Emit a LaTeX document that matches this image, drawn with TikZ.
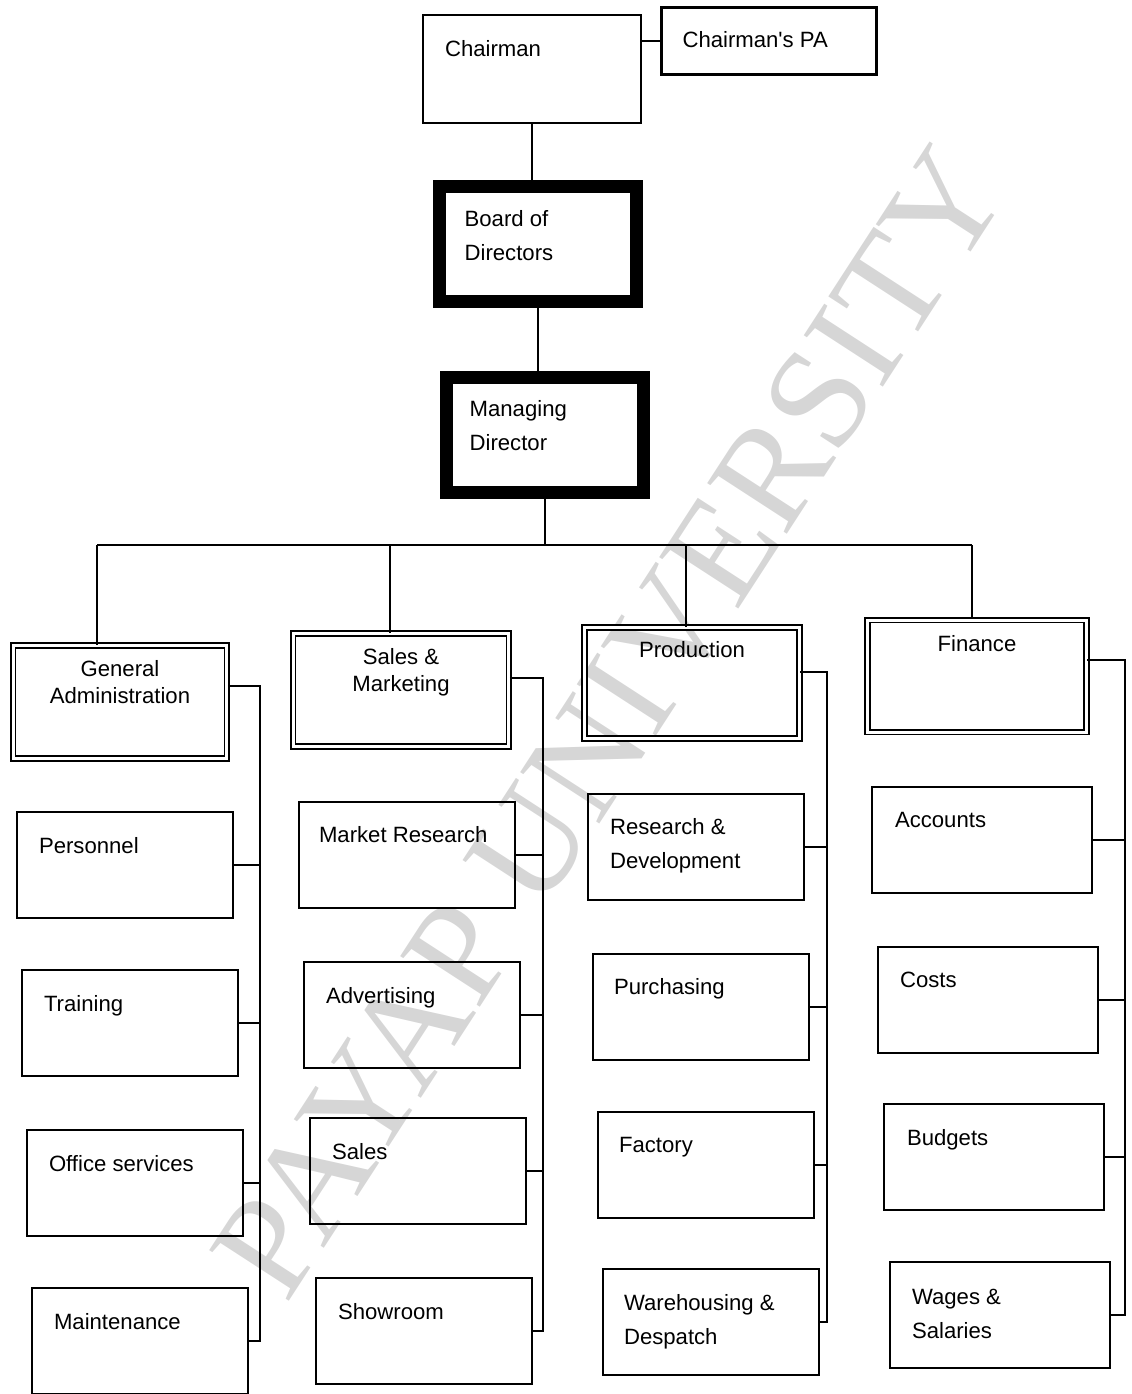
\documentclass[tikz,border=0pt]{standalone}
\usepackage{fontspec}
\setmainfont{Liberation Sans}
\newfontfamily\wmfont{Liberation Serif}
\usetikzlibrary{positioning}

\begin{document}
\begin{tikzpicture}[x=0.02cm,y=-0.02cm,line width=1.3pt,
  box/.style={draw,rectangle,minimum width=4.32cm,minimum height=2.12cm,inner sep=0pt},
  topbox/.style={box,minimum width=#1},
  heavy/.style={draw,rectangle,line width=0.26cm,minimum width=3.96cm,minimum height=2.3cm,inner sep=0pt},
  dept/.style={draw,rectangle,double,double distance=0.06cm,line width=1pt,minimum width=#1,minimum height=2.26cm,inner sep=0pt},
  lbl/.style={anchor=north west,inner sep=0pt,align=left,font=\fontsize{12.6}{19.5}\selectfont},
  dlbl/.style={anchor=north,inner sep=0pt,align=center,font=\fontsize{12.6}{15}\selectfont}]
  \useasboundingbox (0,0) rectangle (1132,1394);

  \node[rotate=57,text=black!16,font=\wmfont\fontsize{82}{82}\selectfont] (mark) at (610,722) {PAYAP UNIVERSITY};

  \node[topbox=4.36cm,minimum height=2.16cm] (chair) at (532,69) {};
  \node[lbl] (chairT) at ([shift={(22,25)}]chair.north west) {Chairman};
  \node[topbox=4.3cm,minimum height=1.34cm] (pa) at (769,41) {};
  \node[lbl] (paT) at ([shift={(21,24)}]pa.north west) {Chairman\textquotesingle s PA};

  \node[heavy] (board) at (538,244) {};
  \node[lbl] (boardT) at ([shift={(31,29)}]board.north west) {Board of\\Directors};
  \node[heavy] (md) at (545,435) {};
  \node[lbl] (mdT) at ([shift={(29,28)}]md.north west) {Managing\\Director};

  \node[dept=4.28cm] (ga) at (120,702) {};
  \node[dlbl] (gaT) at ([yshift=-0.3cm]ga.north) {General\\Administration};
  \node[dept=4.32cm] (sm) at (401,690) {};
  \node[dlbl] (smT) at ([yshift=-0.3cm]sm.north) {Sales \&\\Marketing};
  \node[dept=4.3cm,minimum height=2.22cm] (prod) at (692,683) {};
  \node[dlbl] (prodT) at ([yshift=-0.28cm]prod.north) {Production};
  \node[dept=4.38cm,minimum height=2.24cm] (fin) at (977,676) {};
  \node[dlbl] (finT) at ([yshift=-0.3cm]fin.north) {Finance};

  \node[box] (pers) at (125,865) {};
  \node[lbl] (persT) at ([shift={(22,25)}]pers.north west) {Personnel};
  \node[box] (train) at (130,1023) {};
  \node[lbl] (trainT) at ([shift={(22,25)}]train.north west) {Training};
  \node[box] (office) at (135,1183) {};
  \node[lbl] (officeT) at ([shift={(22,25)}]office.north west) {Office services};
  \node[box] (maint) at (140,1341) {};
  \node[lbl] (maintT) at ([shift={(22,25)}]maint.north west) {Maintenance};

  \node[box] (mres) at (407,855) {};
  \node[lbl] (mresT) at ([shift={(20,24)}]mres.north west) {Market Research};
  \node[box] (adv) at (412,1015) {};
  \node[lbl] (advT) at ([shift={(22,25)}]adv.north west) {Advertising};
  \node[box] (sales) at (418,1171) {};
  \node[lbl] (salesT) at ([shift={(22,25)}]sales.north west) {Sales};
  \node[box] (show) at (424,1331) {};
  \node[lbl] (showT) at ([shift={(22,25)}]show.north west) {Showroom};

  \node[box] (rnd) at (696,847) {};
  \node[lbl] (rndT) at ([shift={(22,24)}]rnd.north west) {Research \&\\Development};
  \node[box] (purch) at (701,1007) {};
  \node[lbl] (purchT) at ([shift={(21,24)}]purch.north west) {Purchasing};
  \node[box] (fact) at (706,1165) {};
  \node[lbl] (factT) at ([shift={(21,25)}]fact.north west) {Factory};
  \node[box] (ware) at (711,1322) {};
  \node[lbl] (wareT) at ([shift={(21,25)}]ware.north west) {Warehousing \&\\Despatch};

  \node[box,minimum width=4.4cm] (acc) at (982,840) {};
  \node[lbl] (accT) at ([shift={(23,25)}]acc.north west) {Accounts};
  \node[box,minimum width=4.4cm] (costs) at (988,1000) {};
  \node[lbl] (costsT) at ([shift={(22,25)}]costs.north west) {Costs};
  \node[box,minimum width=4.4cm] (budg) at (994,1157) {};
  \node[lbl] (budgT) at ([shift={(23,25)}]budg.north west) {Budgets};
  \node[box,minimum width=4.4cm] (wages) at (1000,1315) {};
  \node[lbl] (wagesT) at ([shift={(22,27)}]wages.north west) {Wages \&\\Salaries};

  \coordinate (busL) at (97,545);
  \coordinate (busR) at (972,545);
  \coordinate (smDrop) at (390,545);
  \coordinate (prodDrop) at (686,545);
  \coordinate (gaX) at (260,0);
  \coordinate (smX) at (543,0);
  \coordinate (prodX) at (827,0);
  \coordinate (finX) at (1125,0);

  \draw (chair.east |- pa.west) -- (pa.west);
  \draw (chair.south) -- (chair.south |- board.north);
  \draw (board.south) -- (board.south |- md.north);
  \draw (md.south) -- (md.south |- busL);
  \draw (busL) -- (busR);
  \draw (busL) -- (busL |- ga.north);
  \draw (smDrop) -- (smDrop |- sm.north);
  \draw (prodDrop) -- (prodDrop |- prod.north);
  \draw (busR) -- (busR |- fin.north);

  \draw ([yshift=0.32cm]ga.east) -| (maint.east -| gaX) -- (maint.east);
  \draw ([yshift=0.24cm]sm.east) -| (show.east -| smX) -- (show.east);
  \draw ([yshift=0.22cm]prod.east) -| (ware.east -| prodX) -- (ware.east);
  \draw ([yshift=0.32cm]fin.east) -| (wages.east -| finX) -- (wages.east);
  \foreach \n in {pers,train,office} \draw (\n.east) -- (\n.east -| gaX);
  \foreach \n in {mres,adv,sales} \draw (\n.east) -- (\n.east -| smX);
  \foreach \n in {rnd,purch,fact} \draw (\n.east) -- (\n.east -| prodX);
  \foreach \n in {acc,costs,budg} \draw (\n.east) -- (\n.east -| finX);
\end{tikzpicture}
\end{document}
